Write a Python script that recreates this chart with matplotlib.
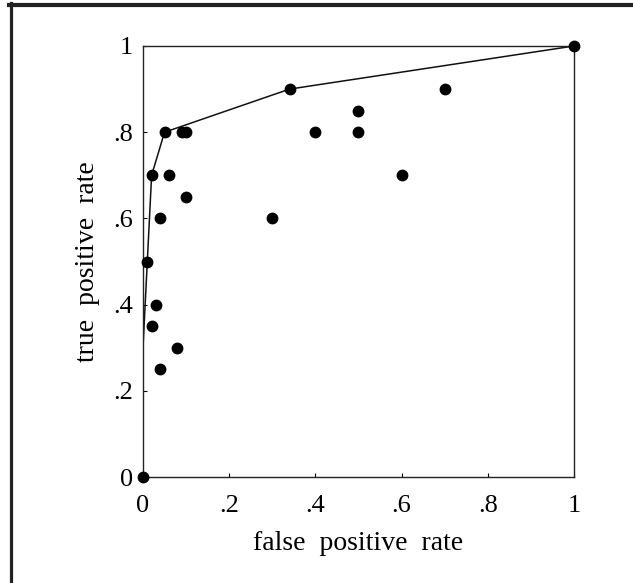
import numpy as np
import matplotlib
matplotlib.use("Agg")
from matplotlib import pyplot as plt
from matplotlib.lines import Line2D

# observed operating points
fpr = [0.0, 0.01, 0.02, 0.05, 0.09, 0.10, 0.06, 0.10, 0.04, 0.34, 0.30,
       0.40, 0.50, 0.50, 0.60, 0.70, 1.0, 0.03, 0.02, 0.08, 0.04]
tpr = [0.0, 0.50, 0.70, 0.80, 0.80, 0.80, 0.70, 0.65, 0.60, 0.90, 0.60,
       0.80, 0.85, 0.80, 0.70, 0.90, 1.0, 0.40, 0.35, 0.30, 0.25]

# convex hull (ROC curve)
hull_fpr = [0.0, 0.0, 0.01, 0.02, 0.05, 0.34, 1.0]
hull_tpr = [0.0, 0.30, 0.50, 0.70, 0.80, 0.90, 1.0]

ticks = [0, 0.2, 0.4, 0.6, 0.8, 1.0]
tick_labels = ["0", ".2", ".4", ".6", ".8", "1"]

plt.rcParams['font.family'] = ['Liberation Serif', 'DejaVu Serif']

fig = plt.figure(figsize=(6.33, 5.83), dpi=100)
ax = fig.add_axes([0.2259, 0.1818, 0.6809, 0.7393])

ax.plot(hull_fpr, hull_tpr, color='#111111', lw=1.1, zorder=2)
ax.plot(fpr, tpr, 'o', color='black', ms=7.5, zorder=3, clip_on=False)

ax.set_xlim(0, 1)
ax.set_ylim(0, 1)
ax.set_xticks(ticks)
ax.set_xticklabels(tick_labels)
ax.set_yticks(ticks)
ax.set_yticklabels(tick_labels)
ax.tick_params(direction='in', length=3, width=0.8, labelsize=19)
ax.tick_params(axis='x', pad=13)
ax.tick_params(axis='y', pad=7)
for s in ax.spines.values():
    s.set_linewidth(1.0)
    s.set_color('#222222')

ax.set_xlabel("false  positive  rate", fontsize=20, labelpad=10)
ax.set_ylabel("true  positive  rate", fontsize=20, labelpad=10)

# frame lines on top and left of the figure
fig.add_artist(Line2D([9 / 633, 1], [1 - 4.5 / 583, 1 - 4.5 / 583],
                      transform=fig.transFigure, color='#222222', lw=3))
fig.add_artist(Line2D([10.5 / 633, 10.5 / 633], [0, 1 - 3 / 583],
                      transform=fig.transFigure, color='#222222', lw=2.3))

fig.savefig("out.png", dpi=100)
